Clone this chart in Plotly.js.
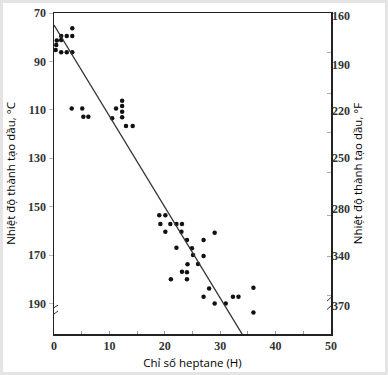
<!DOCTYPE html>
<html>
<head>
<meta charset="utf-8">
<script src="https://cdn.plot.ly/plotly-3.0.1.min.js"></script>
<style>
html,body{margin:0;padding:0;background:#e4e4e4;}
#chart{position:absolute;left:3px;top:3px;width:382px;height:369px;background:#fff;}
</style>
</head>
<body>
<div id="chart"></div>
<script>
// Heptane index (H) and oil-generation temperature (°C)
const heptaneX = [3.3,1.3,2.3,3.3,0.5,1.3,0.4,0.3,1.3,2.3,3.3,
  3.2,5.1,5.3,6.2,10.5,11.2,12.3,12.3,12.3,12.3,13.0,14.2,
  19.0,20.1,19.2,21.0,22.1,23.1,20.1,23.0,29.0,24.0,27.0,22.1,24.9,25.1,27.0,
  24.1,26.0,23.1,24.0,21.1,24.0,28.0,36.0,27.0,32.3,33.3,29.0,31.0,36.0];
const tempC = [76.3,79.5,79.5,79.5,81.4,81.2,83.2,85.3,86.2,86.2,86.2,
  109.4,109.4,112.9,112.9,113.5,109.4,106.2,108.4,110.8,113.1,116.7,116.7,
  153.5,153.5,157.2,157.2,157.2,157.2,160.4,160.4,160.8,163.8,163.8,167.0,167.2,170.0,170.4,
  173.8,173.7,176.9,177.1,180.0,180.0,183.8,183.5,187.2,187.2,187.2,190.0,190.0,193.7];
// Regression line end points
const trendX = [0, 34];
const trendY = [75, 202.8];
// Axis ticks
const xTicks = [0,10,20,30,40,50];
const leftTicks = [70,90,110,130,150,170,190];
const rightTickPos = [71.2,91.5,110.5,129.9,151,170.4,191];
const rightTickText = ['160','190','220','250','280','340','370'];
const rightMarkPos = [86.5,103.4,119.5,136,153.8,170.7,186.8];

const tickFont = {family:'Liberation Serif, serif', size:12, color:'#333', weight:'bold'};
const titleFont = {family:'Open Sans, sans-serif', size:11.5, color:'#000'};

const traces = [
  {x:heptaneX, y:tempC, mode:'markers', type:'scatter',
   marker:{color:'#111', size:4.5}, cliponaxis:false, hoverinfo:'skip'},
  {x:trendX, y:trendY, mode:'lines', type:'scatter',
   line:{color:'#333', width:1.3}, hoverinfo:'skip'},
  {x:[0], y:[70], yaxis:'y2', mode:'markers', marker:{opacity:0}, hoverinfo:'skip'},
  {x:[0], y:[70], yaxis:'y3', mode:'markers', marker:{opacity:0}, hoverinfo:'skip'}
];

const yr = [202.6, 70];
function brk(x, ya, yb){
  return {type:'line', xref:'x', yref:'y', xsizemode:'pixel', xanchor:x,
    x0:-4, x1:4, y0:ya, y1:yb, line:{color:'#333', width:1}};
}
const layout = {
  width:382, height:369,
  margin:{l:51, r:54, t:10, b:38},
  paper_bgcolor:'#fff', plot_bgcolor:'#fff',
  showlegend:false,
  xaxis:{range:[0,50], tickvals:xTicks, ticks:'inside', ticklen:3, tickcolor:'#999',
    minor:{dtick:5, ticks:'inside', ticklen:3, tickcolor:'#999'},
    showgrid:false, zeroline:false, showline:true, linecolor:'#222', linewidth:1.5,
    mirror:true, tickfont:tickFont,
    title:{text:'Chỉ số heptane (H)', font:titleFont, standoff:7}},
  yaxis:{range:yr, tickvals:leftTicks, ticks:'outside', ticklen:4, tickcolor:'#bbb',
    showgrid:false, zeroline:false, showline:true, linecolor:'#222', linewidth:1.5,
    mirror:true, tickfont:tickFont,
    title:{text:'Nhiệt độ thành tạo dầu, °C', font:titleFont, standoff:11}},
  yaxis2:{range:yr, overlaying:'y', side:'right', tickvals:rightTickPos, ticktext:rightTickText,
    ticks:'', showgrid:false, zeroline:false, showline:false, tickfont:tickFont,
    title:{text:'Nhiệt độ thành tạo dầu, °F', font:titleFont, standoff:4}},
  yaxis3:{range:yr, overlaying:'y', side:'right', tickvals:rightMarkPos, showticklabels:false,
    ticks:'inside', ticklen:4, tickcolor:'#aaa', showgrid:false, zeroline:false, showline:false},
  shapes:[brk(0,192.7,190.7), brk(0,195.6,193.1), brk(50,189,186), brk(50,192.5,189.5)]
};
Plotly.newPlot('chart', traces, layout, {displayModeBar:false, staticPlot:true});
</script>
</body>
</html>
